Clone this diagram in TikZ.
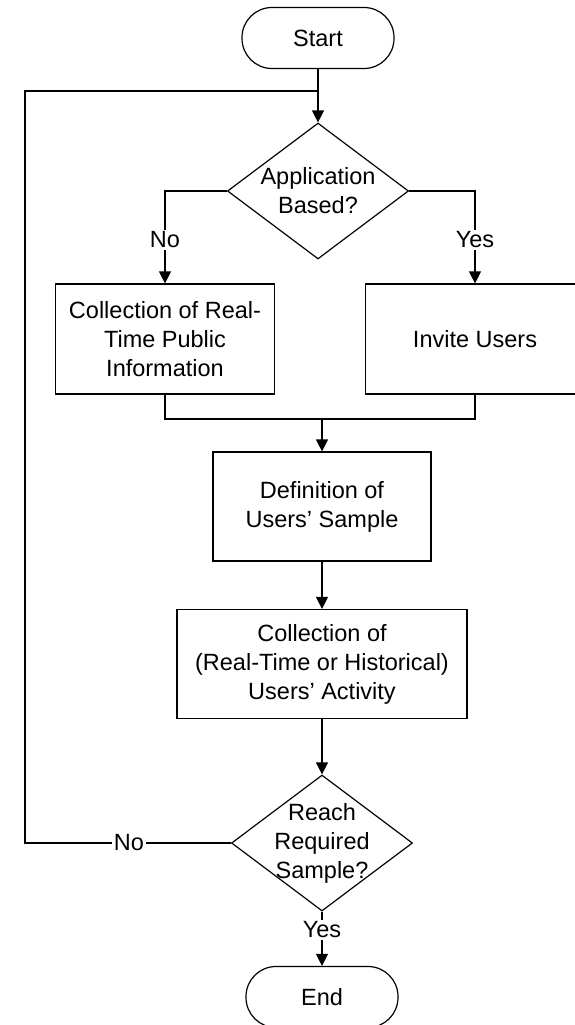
\documentclass[tikz,border=0pt]{standalone}
\usepackage{fontspec}
\setmainfont{Liberation Sans}
\usetikzlibrary{shapes.geometric,arrows.meta}
\begin{document}
\begin{tikzpicture}[x=1pt,y=-1pt, line width=1.2pt,
 every node/.style={font=\fontsize{23.5}{29}\selectfont},
 term/.style={draw, rectangle, rounded corners=30pt, minimum width=152pt, minimum height=61pt, inner sep=0},
 proc/.style={draw, rectangle, minimum height=110pt, inner sep=0, align=center},
 dec/.style={draw, diamond, minimum width=181pt, minimum height=136pt, inner sep=0},
 txt/.style={align=center, inner sep=0},
 lbl/.style={fill=white, inner sep=1.5pt},
 arr/.style={-{Triangle[length=12pt,width=12pt]}},
]
\useasboundingbox (0,0) rectangle (574,1025);
\node[term] (start) at (318,38) {Start};
\coordinate (loop) at (318,91);
\node[dec] (d1) at (318,191) {};
\node[txt] (d1t) at (d1) {Application\\Based?};
\node[proc, minimum width=219pt] (pub) at (165,339) {Collection of Real-\\Time Public\\Information};
\node[proc, minimum width=219pt] (inv) at (475,339) {Invite Users};
\coordinate (merge) at (322,419);
\node[proc, minimum width=218pt, minimum height=109pt] (def) at (322,506.5) {Definition of\\Users’ Sample};
\node[proc, minimum width=290pt, minimum height=109pt] (col) at (322,664) {Collection of\\(Real-Time or Historical)\\Users’ Activity};
\node[dec] (d2) at (322,843) {};
\node[txt] (d2t) at (d2) {Reach\\Required\\Sample?};
\node[term] (end) at (322,997) {End};
\coordinate (lc) at (25,843);

\draw[arr] (start) -- (d1.north);
\draw[arr] (d1.west) -| (pub.north);
\draw[arr] (d1.east) -| (inv.north);
\node[lbl] (no1) at (165,240) {No};
\node[lbl] (yes1) at (475,240) {Yes};
\draw (pub.south) |- (merge) -| (inv.south);
\draw[arr] (merge) -- (def.north);
\draw[arr] (def) -- (col);
\draw[arr] (col) -- (d2.north);
\draw (d2.west) -- (lc) |- (loop);
\node[lbl] (no2) at (129,843) {No};
\draw[arr] (d2.south) -- (end.north);
\node[lbl] (yes2) at (322,930) {Yes};
\end{tikzpicture}
\end{document}
